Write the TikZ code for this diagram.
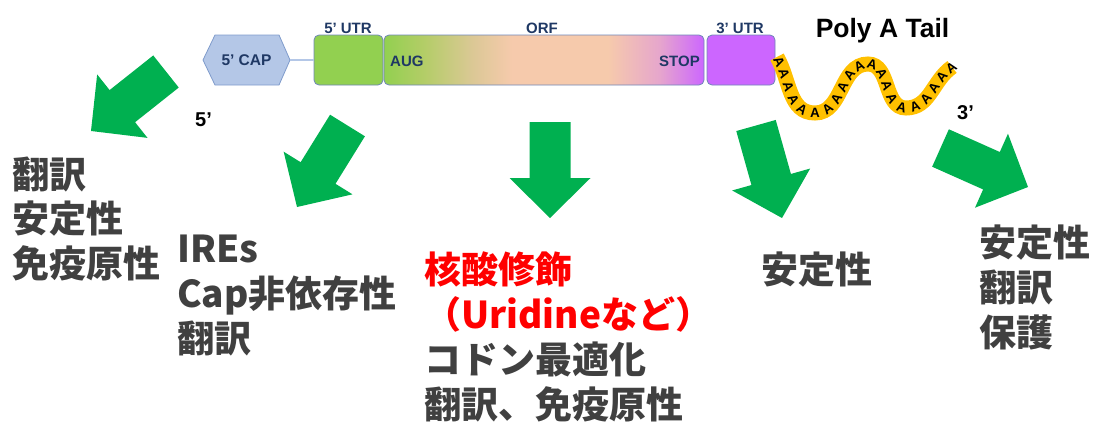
\documentclass[tikz,border=0pt]{standalone}
\usepackage{fontspec}
\setmainfont{Liberation Sans}
\newfontfamily\jpfont{Noto Sans CJK JP}
\usetikzlibrary{calc,decorations.text}

\definecolor{navy}{HTML}{1F3864}
\definecolor{capfill}{HTML}{B4C7E7}
\definecolor{capedge}{HTML}{7F9BCB}
\definecolor{boxedge}{HTML}{6F86B8}
\definecolor{utrgreen}{HTML}{92D050}
\definecolor{utrpurple}{HTML}{CC66FF}
\definecolor{orfB}{HTML}{B2CD66}
\definecolor{orfC}{HTML}{DCC896}
\definecolor{orfD}{HTML}{F6CAAC}
\definecolor{orfE}{HTML}{E6A6CC}
\definecolor{tailgold}{HTML}{FFC000}
\definecolor{arrowgreen}{HTML}{00B050}
\definecolor{textgray}{HTML}{404040}

\pgfdeclarehorizontalshading{orfshading}{100bp}{%
  color(0bp)=(utrgreen); color(25bp)=(utrgreen); color(31bp)=(orfB);
  color(39bp)=(orfC); color(45bp)=(orfD); color(60bp)=(orfD);
  color(68bp)=(orfE); color(75bp)=(utrpurple); color(100bp)=(utrpurple)}

\newcommand{\polyAfont}{\bfseries\fontsize{13.5}{13.5}\selectfont}

% block arrow from tail centre #1 to tip #2
\newcommand{\greenarrow}[2]{%
  \path ($(#2)!40pt!(#1)$) coordinate (hb);
  \fill[arrowgreen]
    ($(#1)!20.5pt!90:(#2)$) -- ($(hb)!20.5pt!90:(#2)$) --
    ($(hb)!40.5pt!90:(#2)$) -- (#2) -- ($(hb)!40.5pt!-90:(#2)$) --
    ($(hb)!20.5pt!-90:(#2)$) -- ($(#1)!20.5pt!-90:(#2)$) -- cycle;}

\tikzset{
  segbox/.style={draw=boxedge, line width=0.8pt, rounded corners=5pt,
    minimum height=50pt, inner sep=0pt},
  toplabel/.style={anchor=base, inner sep=0pt, text=navy,
    font=\bfseries\fontsize{15}{15}\selectfont},
  inlabel/.style={inner sep=0pt, text=navy,
    font=\bfseries\fontsize{15}{15}\selectfont},
  endlabel/.style={anchor=base west, inner sep=0pt, text=black,
    font=\bfseries\fontsize{20}{20}\selectfont},
  jptext/.style={anchor=base west, inner sep=0pt, text=textgray,
    font=\jpfont\bfseries\fontsize{37}{44}\selectfont},
  jpred/.style={jptext, text=red},
  tailband/.style={draw=tailgold, line width=15pt},
}

\begin{document}
\begin{tikzpicture}[x=1pt,y=-1pt]
\useasboundingbox (0,0) rectangle (1094,421);

% 5' cap
\draw[fill=capfill, draw=capedge, line width=0.8pt]
  (203,60) -- (215,35) -- (279,35) -- (290,60) -- (279,85) -- (215,85) -- cycle;
\node[inlabel, minimum width=87pt, minimum height=50pt,
  font=\bfseries\fontsize{15.5}{15.5}\selectfont] (cap) at (246.5,60) {5’ CAP};

% mRNA segments
\node[segbox, fill=utrgreen, minimum width=69pt] (utr5) at (348.5,60) {};
\node[segbox, shading=orfshading, minimum width=320pt] (orf) at (544,60) {};
\node[segbox, fill=utrpurple, minimum width=68pt] (utr3) at (741,60) {};
\draw[capfill, line width=1.5pt] (cap.east) -- (utr5.west);

\node[toplabel] (lutr5) at (348,33) {5’ UTR};
\node[toplabel] (lorf) at (542,33) {ORF};
\node[toplabel] (lutr3) at (740,33) {3’ UTR};
\node[inlabel, anchor=base west] (aug) at (390,66) {AUG};
\node[inlabel, anchor=base east] (stop) at (700,66) {STOP};

% poly(A) tail
\node[anchor=base, inner sep=0pt, font=\bfseries\fontsize{26.5}{26.5}\selectfont]
  (polya) at (882.5,37.5) {Poly A Tail};
\draw[tailband, postaction={decorate, decoration={text along path, raise=-4.8pt,
    text={|\polyAfont|A A A A A A A A A A A A A A A A A A A A A A A A A}}}]
  (777,57) to[out=-60,in=180] (815,113) to[out=0,in=180] (868,64)
  to[out=0,in=180] (906,108) to[out=0,in=-145] (952,67);

\node[endlabel] (five) at (195,126) {5’};
\node[endlabel] (three) at (957,119) {3’};

% arrows
\coordinate (t1) at (166,71.5);   \coordinate (h1) at (91,131);
\coordinate (t2) at (347.5,125.5); \coordinate (h2) at (297,207);
\coordinate (t3) at (550,122);    \coordinate (h3) at (550,218);
\coordinate (t4) at (756,125.5);  \coordinate (h4) at (782,218);
\coordinate (t5) at (940.5,148);  \coordinate (h5) at (1028,187);
\greenarrow{t1}{h1}
\greenarrow{t2}{h2}
\greenarrow{t3}{h3}
\greenarrow{t4}{h4}
\greenarrow{t5}{h5}

% effects
\node[jptext] (c1a) at (12,188) {翻訳};
\node[jptext] (c1b) at (12,232) {安定性};
\node[jptext] (c1c) at (12,277) {免疫原性};

\node[jptext] (c2a) at (177,262) {IREs};
\node[jptext] (c2b) at (177,307) {Cap非依存性};
\node[jptext] (c2c) at (177,352) {翻訳};

\node[jpred] (c3a) at (424,283) {核酸修飾};
\node[jpred] (c3b) at (424,328) {（Uridineなど）};
\node[jptext] (c3c) at (424,373) {コドン最適化};
\node[jptext] (c3d) at (424,418) {翻訳、免疫原性};

\node[jptext] (c4a) at (761,283) {安定性};

\node[jptext] (c5a) at (979,256) {安定性};
\node[jptext] (c5b) at (979,301) {翻訳};
\node[jptext] (c5c) at (979,346) {保護};
\end{tikzpicture}
\end{document}
